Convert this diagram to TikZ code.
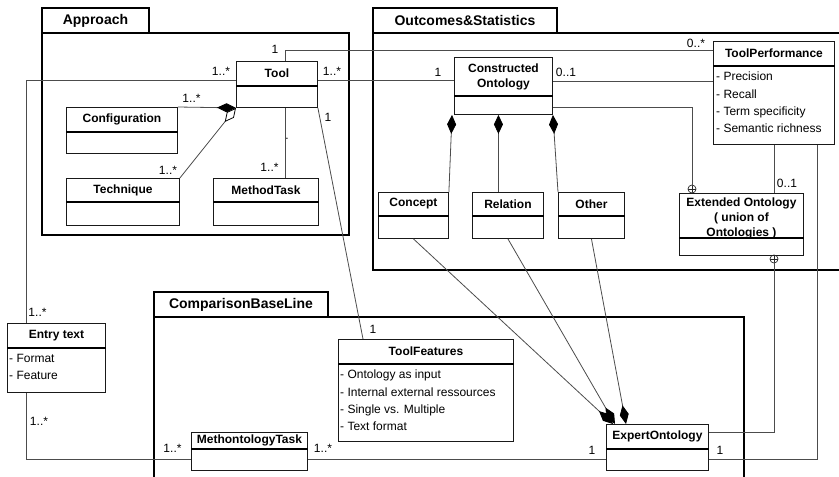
\documentclass[tikz,border=0pt]{standalone}
\usepackage{fontspec}
\setmainfont{Liberation Sans}
\usetikzlibrary{arrows.meta}

\begin{document}
\begin{tikzpicture}[x=1pt,y=-1pt,
	pkg/.style={line width=2.8pt},
	pkgname/.style={font=\fontsize{14}{16}\selectfont\bfseries,inner sep=0pt},
	umlbox/.style={draw=black!90,line width=0.9pt,anchor=north west,inner sep=0pt},
	sepline/.style={line width=2pt},
	cname/.style={font=\fontsize{12}{15}\selectfont\bfseries,align=center,inner sep=0pt},
	attr/.style={font=\fontsize{12}{17.3}\selectfont,align=left,anchor=north west,inner sep=0pt},
	mult/.style={font=\fontsize{12}{14}\selectfont,inner sep=0pt},
	conn/.style={draw=black!70,line width=0.8pt},
	comp/.style={conn,-{Diamond[length=19pt,width=9pt,black]}},
	share/.style={conn,-{Diamond[open,length=18pt,width=9pt,black]}},
	oplus/.style={circle,draw=black!85,line width=0.7pt,minimum size=8pt,inner sep=0pt,
		path picture={\draw[line width=0.7pt] (path picture bounding box.north) -- (path picture bounding box.south)
			(path picture bounding box.west) -- (path picture bounding box.east);}}]

	\useasboundingbox (0,0) rectangle (839,477);
	\clip (0,0) rectangle (839,477);

	% packages
	\draw[pkg] (42,33) rectangle (349,235);
	\draw[pkg] (42,8) rectangle (149,33);
	\node[pkgname] (approach) at (95.5,20.5) {Approach};
	\draw[pkg] (373,33) rectangle (870,270);
	\draw[pkg] (373,8) rectangle (557,33);
	\node[pkgname] (outcomes) at (465,20.5) {Outcomes\&Statistics};
	\draw[pkg] (154,317) rectangle (744,500);
	\draw[pkg] (154,292) rectangle (328,317);
	\node[pkgname] (baseline) at (241,304.5) {ComparisonBaseLine};

	% classes of Approach
	\node[umlbox,minimum width=81pt,minimum height=46pt] (tool) at (236,61) {};
	\draw[sepline] ([yshift=-25pt]tool.north west) -- ([yshift=-25pt]tool.north east);
	\node[cname] (tooltitle) at ([yshift=-12.5pt]tool.north) {Tool};
	\node[umlbox,minimum width=111pt,minimum height=46pt] (config) at (66,107) {};
	\draw[sepline] ([yshift=-25pt]config.north west) -- ([yshift=-25pt]config.north east);
	\node[cname] (configtitle) at ([yshift=-12.5pt]config.north) {Configuration};
	\node[umlbox,minimum width=113pt,minimum height=47pt] (technique) at (66,178) {};
	\draw[sepline] ([yshift=-24pt]technique.north west) -- ([yshift=-24pt]technique.north east);
	\node[cname] (techniquetitle) at ([yshift=-12pt]technique.north) {Technique};
	\node[umlbox,minimum width=105pt,minimum height=47pt] (methodtask) at (213,178) {};
	\draw[sepline] ([yshift=-24pt]methodtask.north west) -- ([yshift=-24pt]methodtask.north east);
	\node[cname] (methodtasktitle) at ([yshift=-12pt]methodtask.north) {MethodTask};

	% classes of Outcomes&Statistics
	\node[umlbox,minimum width=98pt,minimum height=57pt] (constronto) at (454,57) {};
	\draw[sepline] ([yshift=-39pt]constronto.north west) -- ([yshift=-39pt]constronto.north east);
	\node[cname] (constrontotitle) at ([yshift=-20pt]constronto.north) {Constructed\\Ontology};
	\node[umlbox,minimum width=121pt,minimum height=103pt] (toolperf) at (713,41) {};
	\draw[sepline] ([yshift=-25pt]toolperf.north west) -- ([yshift=-25pt]toolperf.north east);
	\node[cname] (toolperftitle) at ([yshift=-12.5pt]toolperf.north) {ToolPerformance};
	\node[attr] (toolperfattr) at (716,72) {- Precision\\- Recall\\- Term specificity\\- Semantic richness};
	\node[umlbox,minimum width=124pt,minimum height=62pt] (extonto) at (679,193) {};
	\draw[sepline] ([yshift=-45pt]extonto.north west) -- ([yshift=-45pt]extonto.north east);
	\node[cname] (extontotitle) at ([yshift=-25pt]extonto.north) {Extended Ontology\\( union of\\Ontologies )};
	\node[umlbox,minimum width=70pt,minimum height=46pt] (concept) at (378,192) {};
	\draw[sepline] ([yshift=-24pt]concept.north west) -- ([yshift=-24pt]concept.north east);
	\node[cname] (concepttitle) at ([yshift=-12pt]concept.north) {Concept};
	\node[umlbox,minimum width=71pt,minimum height=46pt] (relation) at (472,192) {};
	\draw[sepline] ([yshift=-24pt]relation.north west) -- ([yshift=-24pt]relation.north east);
	\node[cname] (relationtitle) at ([yshift=-12pt]relation.north) {Relation};
	\node[umlbox,minimum width=66pt,minimum height=46pt] (other) at (558,192) {};
	\draw[sepline] ([yshift=-24pt]other.north west) -- ([yshift=-24pt]other.north east);
	\node[cname] (othertitle) at ([yshift=-12pt]other.north) {Other};

	% classes outside / ComparisonBaseLine
	\node[umlbox,minimum width=98pt,minimum height=69pt] (entry) at (7,323) {};
	\draw[sepline] ([yshift=-25pt]entry.north west) -- ([yshift=-25pt]entry.north east);
	\node[cname] (entrytitle) at ([yshift=-12.5pt]entry.north) {Entry text};
	\node[attr] (entryattr) at (9,354) {- Format\\- Feature};
	\node[umlbox,minimum width=175pt,minimum height=102pt] (toolfeat) at (338,339) {};
	\draw[sepline] ([yshift=-25pt]toolfeat.north west) -- ([yshift=-25pt]toolfeat.north east);
	\node[cname] (toolfeattitle) at ([yshift=-12.5pt]toolfeat.north) {ToolFeatures};
	\node[attr] (toolfeatattr) at (340,370) {- Ontology as input\\- Internal external ressources\\- Single vs. Multiple\\- Text format};
	\node[umlbox,minimum width=116pt,minimum height=38pt] (methtask) at (191,432) {};
	\draw[sepline] ([yshift=-17pt]methtask.north west) -- ([yshift=-17pt]methtask.north east);
	\node[cname] (methtasktitle) at ([yshift=-8.5pt]methtask.north) {MethontologyTask};
	\node[umlbox,minimum width=102pt,minimum height=46pt] (expert) at (606,424) {};
	\draw[sepline] ([yshift=-25pt]expert.north west) -- ([yshift=-25pt]expert.north east);
	\node[cname] (experttitle) at ([yshift=-12.5pt]expert.north) {ExpertOntology};

	% circle-plus ends
	\node[oplus] (ep1) at (692,189) {};
	\node[oplus] (ep2) at (774,259) {};

	% connectors
	\draw[conn] ([xshift=8.5pt]tool.north) |- ([yshift=-9pt]toolperf.north west);
	\draw[conn] ([yshift=-19pt]tool.north west) -| ([xshift=19pt]entry.north west);
	\draw[conn] ([yshift=-19pt]tool.north east) -- ([yshift=-19pt]tool.north east -| constronto.west);
	\draw[conn] ([yshift=-24pt]constronto.north east) -- ([yshift=-24pt]constronto.north east -| toolperf.west);
	\draw[comp] (config.north east) -- (tool.south west);
	\draw[share] (technique.north east) -- (tool.south west);
	\draw[conn] ([xshift=8.5pt]tool.south) -- ([xshift=8.5pt]tool.south |- methodtask.north);
	\draw[conn] (tool.south east) -- ([xshift=25pt]toolfeat.north west);
	\draw[conn] ([yshift=-50pt]constronto.north east) -| (ep1.north);
	\draw[conn] ([xshift=61pt]toolperf.south west) -- ([xshift=61pt]toolperf.south west |- extonto.north);
	\draw[conn] (ep2.south) |- ([yshift=-8pt]expert.north east);
	\draw[conn] ([xshift=104pt]toolperf.south west) |- ([yshift=-35pt]expert.north east);
	\draw[conn] ([xshift=19pt]entry.south west) |- ([yshift=-27pt]methtask.north west);
	\draw[conn] ([yshift=-27pt]methtask.north east) -- ([yshift=-35pt]expert.north west);
	\draw[comp] (concept.north east) -- ([xshift=-2pt]constronto.south west);
	\draw[comp] ([xshift=-9.5pt]relation.north) -- ([xshift=-9.5pt]relation.north |- constronto.south);
	\draw[comp] (other.north west) -- (constronto.south east);
	\draw[comp] (concept.south) -- ([xshift=7pt]expert.north west);
	\draw[comp] (relation.south) -- ([xshift=9pt]expert.north west);
	\draw[comp] (other.south) -- ([xshift=20pt]expert.north west);

	% multiplicities
	\node[mult] (m1) at (275,49) {1};
	\node[mult] (m2) at (696,43) {0..*};
	\node[mult] (m3) at (221,71) {1..*};
	\node[mult] (m4) at (332,71) {1..*};
	\node[mult] (m5) at (438,72) {1};
	\node[mult] (m6) at (566,72) {0..1};
	\node[mult] (m7) at (191.5,98) {1..*};
	\node[mult] (m8) at (168,170) {1..*};
	\node[mult] (m9) at (269.5,167) {1..*};
	\node[mult] (m10) at (287,139) {.};
	\node[mult] (m11) at (328,117) {1};
	\node[mult] (m12) at (373,329) {1};
	\node[mult] (m13) at (787,183) {0..1};
	\node[mult] (m14) at (37.5,312) {1..*};
	\node[mult] (m15) at (39,421) {1..*};
	\node[mult] (m16) at (172.5,448) {1..*};
	\node[mult] (m17) at (323,448) {1..*};
	\node[mult] (m18) at (592,450) {1};
	\node[mult] (m19) at (720,450) {1};

\end{tikzpicture}
\end{document}
